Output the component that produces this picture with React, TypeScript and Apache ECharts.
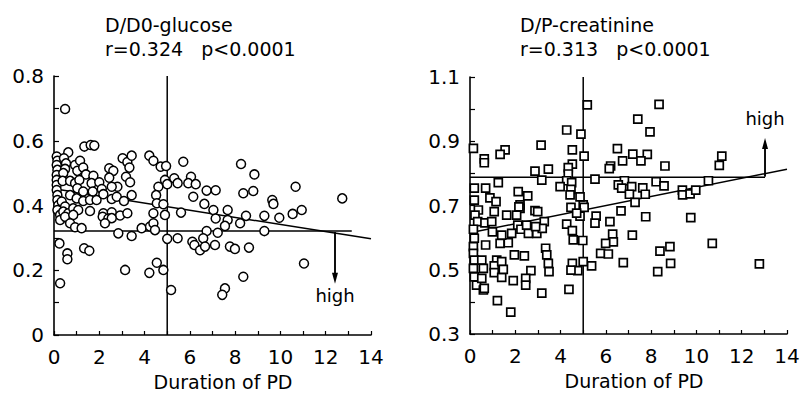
import React, { useEffect, useRef } from "react";
import * as echarts from "echarts";

// ---- Data ----
const glucosePoints: number[][] = [
  [5.71, 0.535], [8.26, 0.528], [8.85, 0.496], [5.31, 0.484], [5.46, 0.469], [6.05, 0.489], [5.93, 0.469], [6.26, 0.466],
  [6.74, 0.446], [7.14, 0.447], [6.15, 0.427], [8.36, 0.438], [8.8, 0.445], [10.67, 0.458], [12.73, 0.422], [9.64, 0.417],
  [9.69, 0.405], [6.64, 0.405], [5.61, 0.378], [7.04, 0.386], [7.67, 0.386], [7.14, 0.36], [7.67, 0.355], [8.48, 0.368],
  [9.29, 0.368], [9.95, 0.362], [10.54, 0.374], [10.94, 0.386], [8.22, 0.345], [7.55, 0.337], [6.74, 0.321], [7.23, 0.316],
  [9.29, 0.321], [5.0, 0.297], [5.46, 0.299], [6.11, 0.288], [6.2, 0.278], [6.45, 0.262], [6.59, 0.299], [6.67, 0.273],
  [7.11, 0.278], [7.77, 0.273], [7.99, 0.266], [8.61, 0.27], [11.04, 0.221], [8.36, 0.18], [7.55, 0.144], [7.43, 0.124],
  [5.17, 0.139],
  [0.49, 0.698], [1.34, 0.582], [1.62, 0.587], [1.78, 0.585], [0.63, 0.564],
  [0.12, 0.551], [0.15, 0.538], [0.12, 0.525], [0.15, 0.51], [0.12, 0.494], [0.12, 0.479], [0.12, 0.463], [0.12, 0.448],
  [0.15, 0.432], [0.15, 0.417], [0.19, 0.401], [0.15, 0.386], [0.27, 0.371],
  [0.44, 0.546], [0.53, 0.53], [0.49, 0.513], [0.41, 0.5], [0.38, 0.476], [0.93, 0.525], [1.15, 0.538], [1.03, 0.507],
  [1.29, 0.517], [1.41, 0.496], [1.74, 0.492], [0.71, 0.476], [0.93, 0.469], [1.12, 0.479], [1.03, 0.453], [1.29, 0.443],
  [1.66, 0.469], [2.0, 0.472], [2.11, 0.451], [1.71, 0.443], [2.44, 0.515], [2.62, 0.507], [2.44, 0.486], [2.8, 0.458],
  [2.55, 0.458], [3.03, 0.546], [3.24, 0.534], [3.43, 0.554], [3.33, 0.517], [3.18, 0.489], [3.36, 0.472], [4.21, 0.554],
  [4.39, 0.538], [4.71, 0.52], [4.95, 0.522], [4.9, 0.479], [5.0, 0.466], [4.61, 0.458],
  [0.71, 0.432], [1.0, 0.422], [1.29, 0.414], [1.59, 0.417], [1.88, 0.417], [2.18, 0.435], [2.55, 0.42], [2.77, 0.427],
  [3.09, 0.414], [3.43, 0.432], [0.34, 0.412], [0.49, 0.397], [0.41, 0.381], [0.63, 0.376], [0.85, 0.391], [1.07, 0.386],
  [1.59, 0.383], [2.18, 0.376], [2.55, 0.379], [2.92, 0.369], [3.24, 0.376], [4.51, 0.432], [4.54, 0.407], [4.83, 0.404],
  [4.39, 0.376], [4.9, 0.371],
  [0.27, 0.355], [0.49, 0.365], [0.85, 0.371], [0.71, 0.345], [0.93, 0.333], [1.22, 0.33], [2.15, 0.365], [2.4, 0.36],
  [2.55, 0.361], [2.25, 0.345], [2.84, 0.314], [3.43, 0.306], [3.87, 0.33], [4.24, 0.335], [4.39, 0.345], [4.46, 0.324],
  [0.24, 0.283], [0.59, 0.252], [0.59, 0.234], [1.33, 0.268], [1.56, 0.26], [0.27, 0.16], [3.14, 0.201], [4.21, 0.192],
  [4.54, 0.223], [4.83, 0.201],
];

const creatininePoints: number[][] = [
  [5.18, 1.013], [8.35, 1.015], [7.41, 0.969], [7.95, 0.929], [6.51, 0.877], [7.19, 0.86], [7.83, 0.859], [7.55, 0.839],
  [6.74, 0.839], [6.21, 0.823], [6.15, 0.815], [8.61, 0.823], [11.12, 0.854], [11.01, 0.825], [5.52, 0.782], [6.82, 0.777],
  [6.55, 0.764], [6.7, 0.754], [7.14, 0.759], [7.63, 0.755], [8.22, 0.774], [8.57, 0.761], [7.04, 0.735], [7.74, 0.735],
  [7.29, 0.71], [9.38, 0.748], [9.39, 0.733], [9.72, 0.736], [9.97, 0.748], [10.53, 0.777], [6.67, 0.683], [5.57, 0.667],
  [5.52, 0.645], [6.18, 0.65], [7.76, 0.665], [9.75, 0.662], [6.3, 0.611], [6.33, 0.587], [5.99, 0.582], [7.17, 0.608],
  [10.7, 0.582], [5.77, 0.551], [6.11, 0.549], [8.39, 0.558], [8.83, 0.572], [5.37, 0.512], [6.77, 0.522], [8.86, 0.52],
  [8.29, 0.494], [12.78, 0.518],
  [4.9, 0.922], [5.04, 0.854], [5.0, 0.702], [4.98, 0.591], [5.0, 0.525], [5.04, 0.694], [4.86, 0.667], [4.86, 0.727],
  [4.27, 0.935], [0.15, 0.878], [3.14, 0.888], [1.55, 0.873], [1.33, 0.859], [0.63, 0.845], [0.63, 0.833], [4.52, 0.873],
  [4.52, 0.829], [2.87, 0.807], [3.46, 0.813], [4.34, 0.818], [4.34, 0.798], [1.25, 0.771], [3.17, 0.779], [4.27, 0.777],
  [4.49, 0.771], [3.98, 0.759], [4.46, 0.75], [4.42, 0.733], [0.19, 0.754], [0.19, 0.717], [0.37, 0.686], [0.69, 0.754],
  [0.88, 0.724], [1.15, 0.712], [2.13, 0.743], [2.55, 0.73], [2.21, 0.702], [2.21, 0.691], [2.87, 0.684], [4.46, 0.694],
  [0.22, 0.67], [0.34, 0.65], [0.15, 0.626], [0.19, 0.598], [0.15, 0.572], [0.15, 0.551], [0.19, 0.53], [0.15, 0.504],
  [0.19, 0.478], [0.29, 0.452], [0.59, 0.437], [0.66, 0.646], [0.96, 0.65], [1.07, 0.681], [0.99, 0.618], [0.69, 0.577],
  [0.52, 0.53], [0.59, 0.504], [0.52, 0.473], [0.63, 0.442], [1.18, 0.53], [1.07, 0.512], [1.4, 0.525], [1.07, 0.491],
  [1.4, 0.476], [1.47, 0.501], [1.33, 0.582], [1.69, 0.584], [1.4, 0.608], [1.84, 0.613], [1.62, 0.67], [2.06, 0.67],
  [2.16, 0.696], [2.11, 0.639], [2.25, 0.626], [2.58, 0.613], [2.95, 0.613], [2.5, 0.639], [2.99, 0.681], [3.28, 0.65],
  [3.19, 0.629], [2.9, 0.634], [1.96, 0.546], [2.4, 0.543], [2.69, 0.497], [2.46, 0.473], [2.46, 0.452], [1.91, 0.466],
  [3.34, 0.567], [3.39, 0.546], [3.46, 0.52], [3.49, 0.494], [3.17, 0.427], [1.21, 0.404], [1.8, 0.368], [4.71, 0.676],
  [4.27, 0.642], [4.52, 0.622], [4.56, 0.593], [4.52, 0.52], [4.76, 0.497], [4.46, 0.499], [4.37, 0.439],
];

// reference lines (data units)
const glucoseCutoff = [[5, 0], [5, 0.8]];
const glucoseThreshold = [[0, 0.321], [13.15, 0.321]];
const glucoseFit = [[0, 0.452], [14, 0.297]];
const glucoseArrow = [[12.41, 0.318], [12.41, 0.175]];

const creatinineCutoff = [[5, 0.3], [5, 1.1]];
const creatinineThreshold = [[0, 0.788], [13.03, 0.788]];
const creatinineFit = [[0, 0.615], [14, 0.813]];
const creatinineArrow = [[13.03, 0.79], [13.03, 0.893]];

// tick labels
const durationTicks = [0, 2, 4, 6, 8, 10, 12, 14];
const glucoseTicks = [0, 0.2, 0.4, 0.6, 0.8];
const creatinineTicks = [0.3, 0.5, 0.7, 0.9, 1.1];

const FONT = "DejaVu Sans";

function labelFrom(ticks: number[], decimals: number) {
  return (v: number) => {
    const t = ticks.find((k) => Math.abs(k - v) < 1e-6);
    if (t === undefined) return "";
    if (t === 0) return "0";
    return t.toFixed(decimals);
  };
}

function xAxis(gridIndex: number) {
  return {
    type: "value",
    gridIndex,
    min: 0,
    max: 14,
    interval: 1,
    axisLine: { show: true, onZero: false, lineStyle: { color: "#000", width: 1.6 } },
    axisTick: { show: true, inside: true, length: 4, lineStyle: { color: "#000", width: 1.2 } },
    axisLabel: {
      show: true,
      margin: 12,
      color: "#000",
      fontSize: 20,
      fontFamily: FONT,
      formatter: labelFrom(durationTicks, 0),
      showMinLabel: true,
      showMaxLabel: true,
    },
    splitLine: { show: false },
  };
}

function yAxis(gridIndex: number, min: number, max: number, ticks: number[]) {
  return {
    type: "value",
    gridIndex,
    min,
    max,
    interval: 0.1,
    axisLine: { show: true, onZero: false, lineStyle: { color: "#000", width: 1.6 } },
    axisTick: { show: true, inside: true, length: 5, lineStyle: { color: "#000", width: 1.2 } },
    axisLabel: {
      show: true,
      margin: 10,
      color: "#000",
      fontSize: 20,
      fontFamily: FONT,
      formatter: labelFrom(ticks, 1),
      showMinLabel: true,
      showMaxLabel: true,
    },
    splitLine: { show: false },
  };
}

function lineSeries(idx: number, data: number[][]) {
  return {
    type: "line",
    xAxisIndex: idx,
    yAxisIndex: idx,
    data,
    symbol: "none",
    showSymbol: false,
    silent: true,
    z: 1,
    lineStyle: { color: "#000", width: 1.5 },
  };
}

function arrowSeries(idx: number, data: number[][]) {
  return {
    type: "line",
    xAxisIndex: idx,
    yAxisIndex: idx,
    data,
    symbol: "none",
    showSymbol: false,
    silent: true,
    z: 1,
    color: "#000",
    lineStyle: { color: "#000", width: 1.5 },
    markLine: {
      silent: true,
      animation: false,
      symbol: ["none", "triangle"],
      symbolSize: [6, 11],
      label: { show: false },
      itemStyle: { color: "#000" },
      lineStyle: { color: "#000", width: 1.5, type: "solid" },
      emphasis: { disabled: true },
      data: [[{ coord: data[0] }, { coord: data[1] }]],
    },
  };
}

function text(x: number, y: number, t: string, size: number, align = "left") {
  return {
    type: "text",
    x,
    y,
    silent: true,
    style: {
      text: t,
      fontSize: size,
      fontFamily: FONT,
      fill: "#000",
      align,
      verticalAlign: "middle",
    },
  };
}

export default function App() {
  const ref = useRef<HTMLDivElement>(null);

  useEffect(() => {
    if (!ref.current) return;
    const chart = echarts.init(ref.current, null, { renderer: "svg" });
    const option: any = {
      animation: false,
      backgroundColor: "#fff",
      grid: [
        { left: 54, top: 76, width: 317, height: 259 },
        { left: 470, top: 77, width: 317, height: 257 },
      ],
      xAxis: [xAxis(0), xAxis(1)],
      yAxis: [yAxis(0, 0, 0.8, glucoseTicks), yAxis(1, 0.3, 1.1, creatinineTicks)],
      series: [
        lineSeries(0, glucoseCutoff),
        lineSeries(0, glucoseThreshold),
        lineSeries(0, glucoseFit),
        arrowSeries(0, glucoseArrow),
        lineSeries(1, creatinineCutoff),
        lineSeries(1, creatinineThreshold),
        lineSeries(1, creatinineFit),
        arrowSeries(1, creatinineArrow),
        {
          type: "scatter",
          xAxisIndex: 0,
          yAxisIndex: 0,
          data: glucosePoints,
          symbol: "circle",
          symbolSize: 9,
          silent: true,
          z: 3,
          itemStyle: { color: "#fff", borderColor: "#000", borderWidth: 1.5, opacity: 1 },
        },
        {
          type: "scatter",
          xAxisIndex: 1,
          yAxisIndex: 1,
          data: creatininePoints,
          symbol: "rect",
          symbolSize: 8,
          silent: true,
          z: 3,
          itemStyle: { color: "#fff", borderColor: "#000", borderWidth: 1.7, opacity: 1 },
        },
      ],
      graphic: [
        text(105, 25, "D/D0-glucose", 19),
        text(105, 49, "r=0.324   p<0.0001", 19),
        text(520, 25, "D/P-creatinine", 19),
        text(520, 49, "r=0.313   p<0.0001", 19),
        text(223, 382, "Duration of PD", 19, "center"),
        text(634, 381, "Duration of PD", 19, "center"),
        text(335, 295, "high", 18, "center"),
        text(765, 118, "high", 18, "center"),
      ],
    };
    chart.setOption(option);
    return () => chart.dispose();
  }, []);

  return (
    <div
      ref={ref}
      style={{ position: "fixed", left: 0, top: 0, width: 804, height: 396, background: "#fff" }}
    />
  );
}
